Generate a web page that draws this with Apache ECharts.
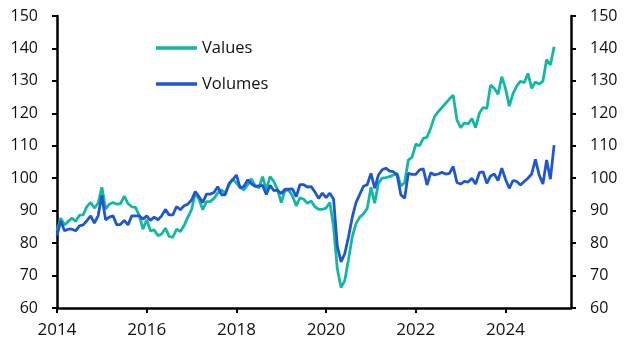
<!DOCTYPE html>
<html><head><meta charset="utf-8">
<script src="https://cdn.jsdelivr.net/npm/echarts@6/dist/echarts.min.js"></script>
<style>html,body{margin:0;padding:0;background:#fff}#c{width:627px;height:352px}</style>
</head><body><div id="c"></div>
<script>
const startYear = 2014; // monthly data, Jan 2014 onward
const seriesNames = ['Values', 'Volumes'];
const valuesData = [
  83.8, 87.7, 85.6, 86.7, 87.7, 86.7, 88.6, 88.7, 91.3, 92.5, 90.8, 92.3,
  97.2, 90.5, 92.0, 92.5, 92.0, 92.2, 94.5, 92.2, 91.2, 91.0, 88.5, 84.3,
  87.2, 83.8, 84.1, 82.3, 82.8, 84.6, 82.1, 81.8, 84.3, 83.6, 85.4, 88.0,
  90.3, 95.4, 93.5, 90.3, 92.8, 92.8, 93.8, 95.4, 96.4, 95.4, 97.9, 99.8,
  98.5, 97.2, 96.4, 98.0, 99.8, 97.8, 97.0, 100.5, 96.5, 100.5, 99.0, 96.5,
  92.5, 96.3, 96.3, 94.5, 91.5, 94.0, 93.5, 92.3, 93.0, 91.2, 90.4, 90.4,
  90.8, 92.5, 85.0, 72.0, 66.3, 68.5, 75.0, 82.0, 86.0, 88.0, 89.0, 90.7,
  97.2, 92.3, 98.5, 100.0, 100.2, 100.5, 101.0, 101.5, 97.6, 98.6, 105.6, 106.5,
  110.5, 110.0, 112.3, 112.6, 115.5, 119.0, 120.5, 121.8, 123.1, 124.4, 125.6, 118.0,
  115.6, 117.1, 116.7, 118.4, 115.6, 120.0, 121.8, 121.5, 128.7, 127.7, 125.9, 131.3,
  127.7, 122.2, 126.1, 128.4, 129.9, 129.4, 132.3, 127.7, 129.7, 129.0, 129.9, 136.6,
  134.9, 140.5
];
const volumesData = [
  82.3, 86.9, 83.8, 84.3, 84.3, 83.8, 85.3, 85.6, 86.9, 88.4, 86.2, 88.4,
  94.7, 87.2, 88.0, 88.4, 85.6, 85.8, 87.0, 85.6, 88.4, 88.4, 88.4, 87.4,
  88.4, 87.0, 88.0, 87.2, 88.4, 90.4, 88.7, 88.7, 91.3, 90.3, 91.5, 92.0,
  93.3, 95.9, 94.3, 92.5, 95.1, 95.1, 95.6, 97.4, 94.9, 94.9, 98.3, 99.5,
  101.0, 97.0, 97.5, 99.5, 98.3, 97.5, 97.6, 97.8, 95.0, 97.8, 96.2, 96.3,
  95.3, 96.6, 96.6, 96.7, 94.3, 98.0, 98.0, 97.3, 97.4, 95.8, 93.8, 95.4,
  94.0, 95.4, 93.5, 79.0, 74.2, 76.8, 82.0, 88.0, 92.5, 95.0, 97.5, 98.0,
  101.5, 96.9, 101.0, 102.6, 103.1, 102.2, 102.0, 101.0, 94.9, 93.8, 101.5, 101.2,
  101.2, 102.6, 102.9, 97.9, 101.7, 101.0, 101.3, 101.8, 101.3, 101.5, 103.6, 98.7,
  98.2, 99.0, 98.8, 100.0, 98.2, 101.7, 102.0, 98.4, 100.7, 101.3, 99.3, 103.1,
  99.7, 96.9, 99.3, 99.0, 97.9, 99.0, 100.0, 101.3, 105.8, 101.0, 98.2, 105.6,
  99.7, 110.2
];
const xTickYears = [2014, 2016, 2018, 2020, 2022, 2024];
const yMin = 60, yMax = 150, yStep = 10;

const monthPos = i => startYear + i / 12;
const toPairs = arr => arr.map((v, i) => [monthPos(i), v]);

const AXIS_COLOR = '#000';
const FONT = '"Open Sans", "Noto Sans", sans-serif';
const lbl = size => ({ fontSize: size, color: '#111', fontFamily: FONT });

function yAxis(pos) {
  return {
    type: 'value', position: pos, min: yMin, max: yMax, interval: yStep,
    axisLine: { show: true, lineStyle: { color: AXIS_COLOR, width: 2.5 } },
    axisTick: { show: true, inside: false, length: 5, lineStyle: { color: AXIS_COLOR, width: 2 } },
    axisLabel: Object.assign({ margin: 19 }, lbl(16)),
    splitLine: { show: false }
  };
}

const chart = echarts.init(document.getElementById('c'), null, { renderer: 'canvas' });
chart.setOption({
  animation: false,
  backgroundColor: '#fff',
  grid: { left: 57, right: 56, top: 16, bottom: 44, containLabel: false, outerBoundsMode: 'none' },
  xAxis: {
    type: 'value', min: 2014, max: 2025.46, interval: 2,
    axisLine: { show: true, onZero: false, lineStyle: { color: AXIS_COLOR, width: 2.5 } },
    axisTick: { show: true, length: 5, customValues: xTickYears, lineStyle: { color: AXIS_COLOR, width: 2 } },
    axisLabel: Object.assign({ margin: 14, customValues: xTickYears, formatter: v => String(v) }, lbl(17)),
    splitLine: { show: false }
  },
  yAxis: [yAxis('left'), yAxis('right')],
  legend: [
    { data: [seriesNames[0]], left: 156, top: 38, padding: 0, icon: 'rect', itemWidth: 41, itemHeight: 3.5,
      textStyle: Object.assign({ lineHeight: 20 }, lbl(16.5)) },
    { data: [seriesNames[1]], left: 156, top: 74, padding: 0, icon: 'rect', itemWidth: 41, itemHeight: 3.5,
      textStyle: Object.assign({ lineHeight: 20 }, lbl(16.5)) }
  ],
  series: [
    { name: seriesNames[0], type: 'line', data: toPairs(valuesData), showSymbol: false, symbol: 'none',
      color: '#13b7a2', lineStyle: { width: 2.8, color: '#13b7a2' } },
    { name: seriesNames[1], type: 'line', data: toPairs(volumesData), showSymbol: false, symbol: 'none',
      color: '#1f57d0', lineStyle: { width: 2.8, color: '#1f57d0' } }
  ]
});
</script>
</body></html>
